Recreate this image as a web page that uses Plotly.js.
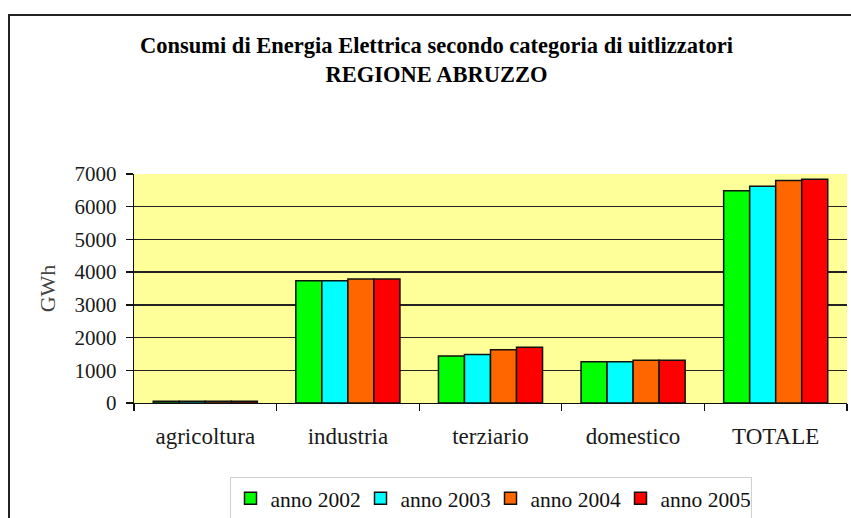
<!DOCTYPE html>
<html>
<head>
<meta charset="utf-8">
<script src="https://cdn.plot.ly/plotly-3.0.1.min.js"></script>
<style>html,body{margin:0;padding:0;background:#fff;}#chart{width:851px;height:518px;}</style>
</head>
<body>
<div id="chart"></div>
<script>
const categories = ["agricoltura", "industria", "terziario", "domestico", "TOTALE"];
const anno2002 = [50, 3740, 1435, 1260, 6485];
const anno2003 = [52, 3740, 1480, 1260, 6625];
const anno2004 = [55, 3790, 1625, 1310, 6800];
const anno2005 = [55, 3790, 1705, 1310, 6840];
const seriesNames = ["anno 2002", "anno 2003", "anno 2004", "anno 2005"];
const seriesColors = ["#00ff00", "#00ffff", "#ff6600", "#ff0000"];
const yTicks = [0, 1000, 2000, 3000, 4000, 5000, 6000, 7000];

const font = "Liberation Serif";
const values = [anno2002, anno2003, anno2004, anno2005];
const traces = values.map((v, i) => ({
  type: "bar",
  x: categories,
  y: v,
  name: seriesNames[i],
  marker: {color: seriesColors[i], line: {color: "#111", width: 1.5}},
  hoverinfo: "none"
}));

const layout = {
  width: 851, height: 518,
  margin: {l: 134, r: 4, t: 174, b: 115, autoexpand: false},
  paper_bgcolor: "#ffffff",
  plot_bgcolor: "#ffff99",
  barmode: "group",
  bargap: 0.27,
  bargroupgap: 0,
  showlegend: true,
  title: {
    text: "<b>Consumi di Energia Elettrica secondo categoria di uitlizzatori<br>REGIONE ABRUZZO</b>",
    font: {family: font, size: 22.5, color: "#000"},
    x: 436.5 / 851, xref: "container", xanchor: "center",
    y: 1 - 53 / 518, yref: "container", yanchor: "top"
  },
  xaxis: {
    type: "category",
    showline: true, linecolor: "#111", linewidth: 1.3,
    ticks: "outside", tickson: "boundaries", ticklen: 7, tickcolor: "#111", tickwidth: 1.3,
    tickfont: {family: font, size: 23, color: "#1a1a1a"},
    ticklabelstandoff: 12,
    showgrid: false, zeroline: false
  },
  yaxis: {
    range: [0, 7000],
    tickvals: yTicks,
    ticktext: yTicks.map(String),
    showline: true, linecolor: "#111", linewidth: 1.3,
    ticks: "outside", ticklen: 7, tickcolor: "#111", tickwidth: 1.3,
    tickfont: {family: font, size: 21, color: "#1a1a1a"},
    ticklabelstandoff: 5,
    showgrid: true, gridcolor: "#222", gridwidth: 1.3,
    zeroline: false,
    title: {text: "GWh", font: {family: font, size: 22, color: "#444"}, standoff: 12}
  },
  legend: {
    orientation: "h",
    x: 0.5, xanchor: "center", xref: "paper",
    y: -0.322, yanchor: "top", yref: "paper",
    font: {family: font, size: 21.5, color: "#111"},
    bgcolor: "#ffffff", bordercolor: "#d0d0d0", borderwidth: 1,
    itemwidth: 30,
    entrywidth: 85,
    traceorder: "normal"
  },
  shapes: [{
    type: "rect", xref: "paper", yref: "paper",
    x0: (9 - 134) / 713, x1: (870 - 134) / 713,
    y0: (403 - 540) / 229, y1: (403 - 15) / 229,
    line: {color: "#222", width: 2}, fillcolor: "rgba(0,0,0,0)", layer: "above"
  }]
};

Plotly.newPlot("chart", traces, layout, {staticPlot: true, displayModeBar: false});
</script>
</body>
</html>
